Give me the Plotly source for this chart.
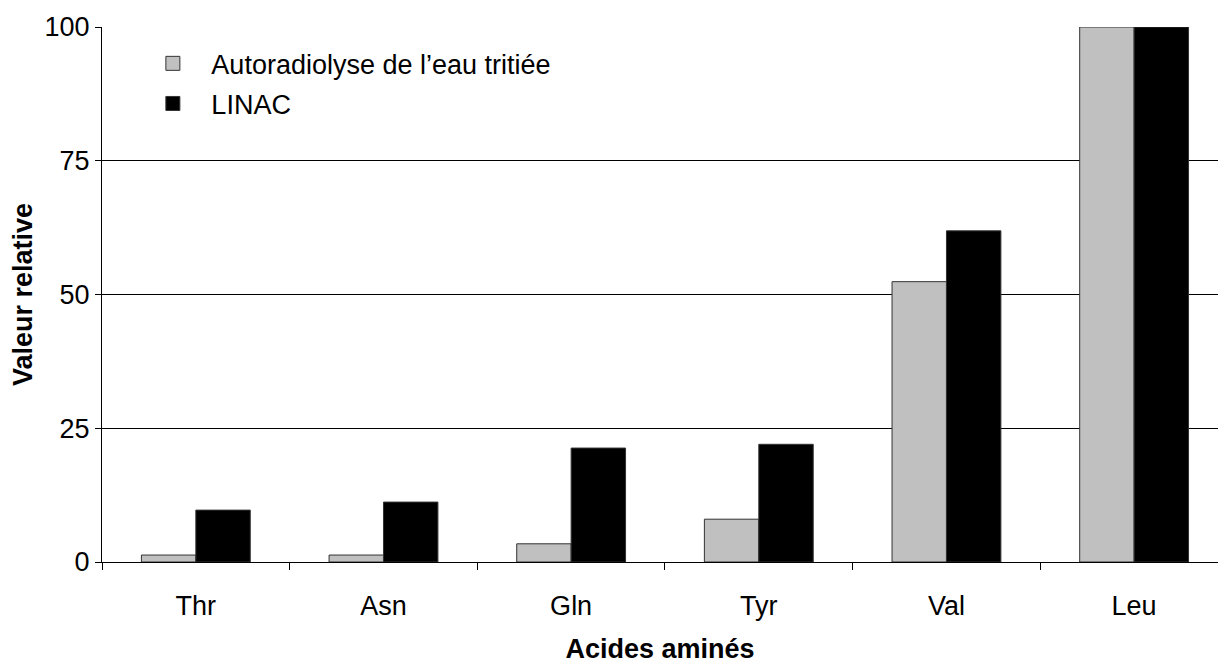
import plotly.graph_objects as go

# Acides aminés et valeurs relatives (Leu = 100)
acides = ["Thr", "Asn", "Gln", "Tyr", "Val", "Leu"]
autoradiolyse = [1.3, 1.3, 3.4, 8.0, 52.4, 100]
linac = [9.7, 11.2, 21.3, 22.0, 61.9, 100]

serie_noms = ["Autoradiolyse de l\u2019eau tritiée", "LINAC"]
serie_couleurs = ["#C0C0C0", "#000000"]
y_ticks = [0, 25, 50, 75, 100]

FONT = "Arial, Liberation Sans, sans-serif"
FS = 27

fig = go.Figure()
for nom, vals, coul in zip(serie_noms, [autoradiolyse, linac], serie_couleurs):
    fig.add_trace(go.Bar(
        x=acides, y=vals, name=nom, showlegend=False,
        marker=dict(color=coul, line=dict(color="#333333", width=1)),
    ))

# Légende : carrés pleins avec contour
for i, (nom, coul) in enumerate(zip(serie_noms, serie_couleurs)):
    fig.add_trace(go.Scatter(
        x=[None], y=[None], mode="markers", name=nom,
        legendgroup=f"g{i}",
        marker=dict(symbol="square", size=14, color=coul,
                    line=dict(color="#333333", width=1)),
    ))

fig.update_layout(
    width=1218, height=671,
    margin=dict(l=102, r=0, t=27, b=109),
    paper_bgcolor="white", plot_bgcolor="white",
    font=dict(family=FONT, size=FS, color="black"),
    barmode="group", bargap=0.42, bargroupgap=0,
    showlegend=True,
    legend=dict(
        x=0.029, y=0.977, xanchor="left", yanchor="top",
        bgcolor="rgba(0,0,0,0)", borderwidth=0,
        font=dict(size=FS, family=FONT),
        itemwidth=67, tracegroupgap=2,
        itemclick=False,
    ),
)

fig.update_xaxes(
    type="category",
    range=[-0.5, 5.447],
    showline=True, linecolor="black", linewidth=1,
    ticks="outside", tickson="boundaries", ticklen=7,
    tickcolor="black", tickwidth=1,
    ticklabelstandoff=20,
    showgrid=False, zeroline=False,
    tickfont=dict(size=FS, family=FONT),
    title=dict(text="<b>Acides aminés</b>", font=dict(size=FS, family=FONT),
               standoff=18),
    automargin=False,
)

fig.update_yaxes(
    range=[0, 100],
    tickvals=y_ticks,
    showline=True, linecolor="black", linewidth=1,
    ticks="outside", ticklen=6, tickcolor="black", tickwidth=1,
    showgrid=True, gridcolor="black", gridwidth=1,
    zeroline=False,
    tickfont=dict(size=FS, family=FONT),
    title=dict(text="<b>Valeur relative</b>", font=dict(size=FS, family=FONT),
               standoff=4),
    automargin=False,
)

fig.write_html("out.html")
